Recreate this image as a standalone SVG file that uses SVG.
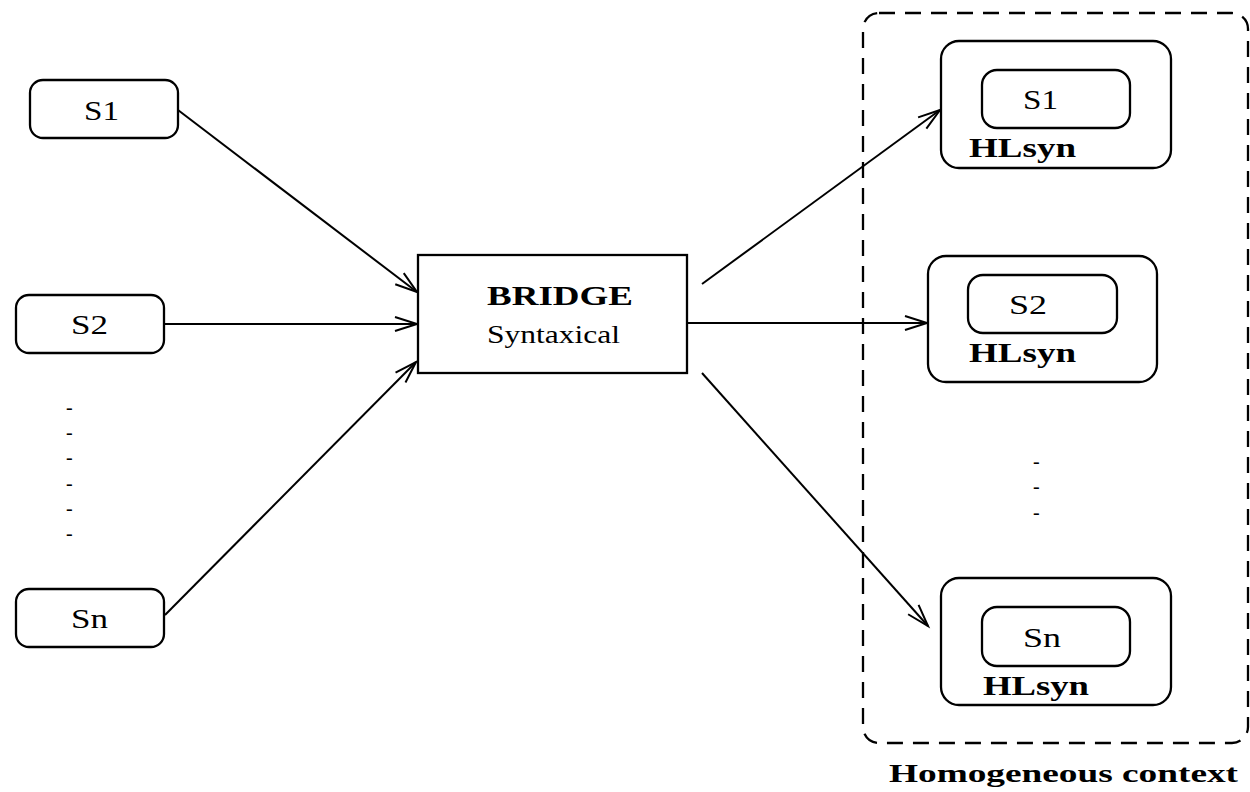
<svg xmlns="http://www.w3.org/2000/svg" width="1250" height="792" viewBox="0 0 1250 792">
<style>
.box{fill:#fff;stroke:#000;stroke-width:2.3}
.t{font-family:"Liberation Serif","Times New Roman",serif;fill:#000}
.b{font-weight:bold}
.edge{stroke:#000;stroke-width:2;fill:none;marker-end:url(#ah)}
</style>
<defs>
<marker id="ah" markerUnits="userSpaceOnUse" markerWidth="30" markerHeight="20" viewBox="-24 -10 26 20" refX="0" refY="0" orient="auto">
<path d="M-22,-7 L0,0 L-22,7" fill="none" stroke="#000" stroke-width="2"/>
</marker>
</defs>
<rect width="1250" height="792" fill="#fff"/>
<g id="context">
<rect x="863" y="13" width="385" height="730" rx="16" fill="none" stroke="#000" stroke-width="2.3" stroke-dasharray="16,10"/>
<text class="t b" x="889" y="782" font-size="26" textLength="349" lengthAdjust="spacingAndGlyphs">Homogeneous context</text>
</g>
<g id="connectors">
<line class="edge" x1="178" y1="110" x2="417" y2="292"/>
<line class="edge" x1="164" y1="324" x2="417" y2="324"/>
<line class="edge" x1="165" y1="615" x2="416" y2="362"/>
<line class="edge" x1="702" y1="284" x2="940" y2="110"/>
<line class="edge" x1="687" y1="323" x2="927" y2="323"/>
<line class="edge" x1="702" y1="373" x2="928" y2="626"/>
</g>
<g id="s1">
<rect class="box" x="30" y="80" width="148" height="58" rx="13"/>
<text class="t" x="84" y="120" font-size="28" textLength="35" lengthAdjust="spacingAndGlyphs">S1</text>
</g>
<g id="s2">
<rect class="box" x="16" y="295" width="148" height="58" rx="13"/>
<text class="t" x="71" y="334" font-size="28" textLength="37" lengthAdjust="spacingAndGlyphs">S2</text>
</g>
<g id="dots-left">
<text class="t" x="66" y="414" font-size="20">-</text>
<text class="t" x="66" y="439" font-size="20">-</text>
<text class="t" x="66" y="464" font-size="20">-</text>
<text class="t" x="66" y="490" font-size="20">-</text>
<text class="t" x="66" y="515" font-size="20">-</text>
<text class="t" x="66" y="540" font-size="20">-</text>
</g>
<g id="sn">
<rect class="box" x="16" y="589" width="148" height="58" rx="13"/>
<text class="t" x="71" y="628" font-size="28" textLength="37" lengthAdjust="spacingAndGlyphs">Sn</text>
</g>
<g id="bridge">
<rect class="box" x="418" y="255" width="269" height="118"/>
<text class="t b" x="487" y="305" font-size="28" textLength="146" lengthAdjust="spacingAndGlyphs">BRIDGE</text>
<text class="t" x="487" y="343" font-size="25" textLength="133" lengthAdjust="spacingAndGlyphs">Syntaxical</text>
</g>
<g id="hl1">
<rect class="box" x="941" y="41" width="230" height="127" rx="18"/>
<rect class="box" x="982" y="70" width="148" height="58" rx="15"/>
<text class="t" x="1023" y="109" font-size="28" textLength="35" lengthAdjust="spacingAndGlyphs">S1</text>
<text class="t b" x="969" y="157" font-size="28" textLength="107" lengthAdjust="spacingAndGlyphs">HLsyn</text>
</g>
<g id="hl2">
<rect class="box" x="928" y="256" width="229" height="126" rx="18"/>
<rect class="box" x="968" y="275" width="149" height="58" rx="15"/>
<text class="t" x="1009" y="314" font-size="28" textLength="38" lengthAdjust="spacingAndGlyphs">S2</text>
<text class="t b" x="969" y="362" font-size="28" textLength="107" lengthAdjust="spacingAndGlyphs">HLsyn</text>
</g>
<g id="dots-right">
<text class="t" x="1033" y="468" font-size="20">-</text>
<text class="t" x="1033" y="493" font-size="20">-</text>
<text class="t" x="1033" y="519" font-size="20">-</text>
</g>
<g id="hl3">
<rect class="box" x="941" y="578" width="230" height="127" rx="18"/>
<rect class="box" x="982" y="607" width="148" height="59" rx="15"/>
<text class="t" x="1023" y="647" font-size="28" textLength="38" lengthAdjust="spacingAndGlyphs">Sn</text>
<text class="t b" x="983" y="695" font-size="28" textLength="106" lengthAdjust="spacingAndGlyphs">HLsyn</text>
</g>
</svg>
